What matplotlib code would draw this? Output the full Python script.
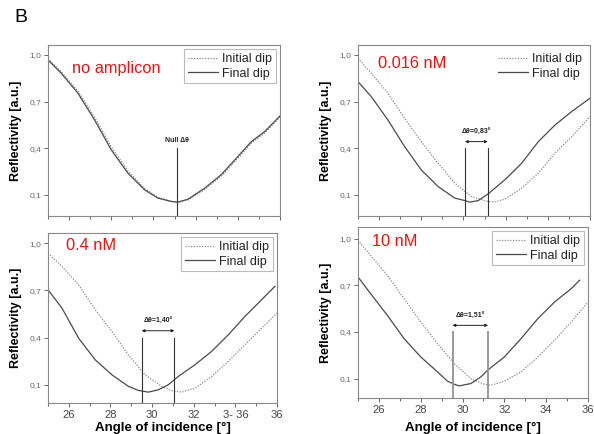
import matplotlib.pyplot as plt
from matplotlib.ticker import MultipleLocator, FixedLocator

plt.rcParams['font.family'] = ['Liberation Sans', 'DejaVu Sans']

# ---- data (angle in deg, reflectivity a.u.) ----
# no amplicon
na_final_x = [25.0, 25.63, 26.42, 27.21, 28.0, 28.79, 29.58, 30.21, 30.85, 31.16,
              31.64, 32.43, 33.21, 34.0, 34.64, 35.27, 36.0]
na_final_y = [0.968, 0.882, 0.754, 0.582, 0.39, 0.24, 0.133, 0.08, 0.058, 0.054,
              0.073, 0.144, 0.23, 0.347, 0.443, 0.507, 0.608]
na_init_x = [25.0, 25.63, 26.42, 27.21, 28.0, 28.79, 29.58, 30.21, 30.85, 31.2,
             31.64, 32.43, 33.21, 34.0, 34.64, 35.27, 36.0]
na_init_y = [0.975, 0.893, 0.768, 0.6, 0.41, 0.255, 0.142, 0.086, 0.06, 0.055,
             0.068, 0.135, 0.22, 0.335, 0.432, 0.497, 0.6]

# 0.016 nM
c1_init_x = [25.0, 25.63, 26.42, 27.21, 28.0, 28.8, 29.59, 30.38, 31.17, 31.45,
             31.96, 32.76, 33.55, 34.34, 35.13, 36.0]
c1_init_y = [0.979, 0.882, 0.754, 0.593, 0.443, 0.304, 0.176, 0.09, 0.058, 0.054,
             0.073, 0.144, 0.24, 0.369, 0.475, 0.604]
c1_final_x = [25.0, 25.63, 26.42, 27.21, 28.0, 28.8, 29.59, 30.07, 30.3, 30.7,
              31.17, 31.96, 32.76, 33.55, 34.34, 35.13, 36.0]
c1_final_y = [0.829, 0.732, 0.582, 0.411, 0.261, 0.154, 0.08, 0.064, 0.054, 0.064,
              0.107, 0.197, 0.304, 0.443, 0.55, 0.636, 0.722]

# 0.4 nM
c2_init_x = [25.0, 25.67, 26.47, 27.27, 28.07, 28.86, 29.66, 30.46, 30.94, 31.42,
             32.06, 32.86, 33.66, 34.46, 35.26, 36.0]
c2_init_y = [0.936, 0.852, 0.735, 0.576, 0.439, 0.29, 0.163, 0.09, 0.062, 0.053,
             0.078, 0.153, 0.248, 0.354, 0.46, 0.555]
c2_final_x = [25.0, 25.67, 26.47, 27.27, 28.07, 28.86, 29.34, 29.82, 30.3, 30.78,
              31.26, 32.06, 32.86, 33.66, 34.46, 35.26, 35.9]
c2_final_y = [0.703, 0.587, 0.396, 0.258, 0.163, 0.09, 0.064, 0.053, 0.068, 0.1,
              0.153, 0.227, 0.312, 0.417, 0.534, 0.64, 0.725]

# 10 nM
c3_init_x = [25.0, 25.6, 26.4, 27.2, 28.0, 28.8, 29.6, 30.4, 31.04, 31.36,
             32.0, 32.8, 33.6, 34.4, 35.2, 36.0]
c3_init_y = [0.99, 0.893, 0.765, 0.615, 0.465, 0.326, 0.197, 0.1, 0.064, 0.058,
             0.084, 0.144, 0.24, 0.347, 0.465, 0.593]
c3_final_x = [25.0, 25.6, 26.4, 27.2, 28.0, 28.8, 29.28, 29.6, 29.84, 30.4,
              30.88, 31.2, 32.0, 32.8, 33.6, 34.4, 35.2, 35.6]
c3_final_y = [0.754, 0.647, 0.508, 0.358, 0.24, 0.144, 0.084, 0.065, 0.054, 0.069,
              0.112, 0.155, 0.24, 0.358, 0.486, 0.593, 0.679, 0.733]

panel_titles = ["no amplicon", "0.016 nM", "0.4 nM", "10 nM"]
shift_labels = ["Null \u0394\u03b8", "\u0394\u03b8=0,83\u00b0", "\u0394\u03b8=1,40\u00b0", "\u0394\u03b8=1,51\u00b0"]
shift_lines = [[31.1], [30.07, 31.15], [29.5, 31.07], [29.52, 31.22]]

y_ticks = [0.1, 0.4, 0.7, 1.0]
y_ticklabels = ["0,1", "0,4", "0,7", "1,0"]
x_ticks = [26, 28, 30, 32, 34, 36]
x_ticklabels_bl = ["26", "28", "30", "32", "3- 36", "36"]
x_ticklabels_br = ["26", "28", "30", "32", "34", "36"]

W, H = 594, 434
fig = plt.figure(figsize=(W / 100, H / 100), dpi=100)


def box(l, r, t, b):
    return [l / W, 1 - b / H, (r - l) / W, (b - t) / H]


rects = [box(48, 280, 45, 216), box(358, 590, 45, 216),
         box(48, 277, 233, 403), box(358, 588, 227, 398)]
ylims = [(-0.035, 1.064), (-0.035, 1.064), (-0.016, 1.064), (-0.024, 1.075)]
data = [(na_init_x, na_init_y, na_final_x, na_final_y),
        (c1_init_x, c1_init_y, c1_final_x, c1_final_y),
        (c2_init_x, c2_init_y, c2_final_x, c2_final_y),
        (c3_init_x, c3_init_y, c3_final_x, c3_final_y)]
legend_frame = [True, False, True, True]
title_px = [(72, 68), (378, 63), (66, 246), (372, 241)]
ylabel_x = [22, 332, 22, 332]

for i, rect in enumerate(rects):
    ax = fig.add_axes(rect)
    ix, iy, fx, fy = data[i]
    ax.plot(ix, iy, color='#8a8a8a', lw=0.9, ls=(0, (1, 1.2)), label='Initial dip')
    ax.plot(fx, fy, color='#4a4a4a', lw=0.9, label='Final dip')
    ax.set_xlim(25, 36)
    ax.set_ylim(*ylims[i])

    lc = '#9a9a9a' if i == 3 else '#333333'
    lw = 1.4 if i == 3 else 0.8
    for xv in shift_lines[i]:
        ax.plot([xv, xv], [ylims[i][0], 0.4], color=lc, lw=lw)
    mid = sum(shift_lines[i]) / len(shift_lines[i])
    if len(shift_lines[i]) == 2:
        ax.annotate('', xy=(shift_lines[i][0], 0.443), xytext=(shift_lines[i][1], 0.443),
                    arrowprops=dict(arrowstyle='<|-|>', color='#222222', lw=0.7,
                                    mutation_scale=4, shrinkA=0, shrinkB=0))
        ax.text(mid, 0.48, shift_labels[i], ha='center', va='bottom', fontsize=5,
                fontweight='bold', color='#222222')
    else:
        ax.text(mid, 0.43, shift_labels[i], ha='center', va='bottom', fontsize=5,
                fontweight='bold', color='#222222')

    fig.text(title_px[i][0] / W, 1 - title_px[i][1] / H, panel_titles[i],
             color='#ee1111', fontsize=11.8, va='center', ha='left')

    leg = ax.legend(loc='upper right', frameon=legend_frame[i], fontsize=9,
                    handlelength=2.4, handletextpad=0.3, borderpad=0.3,
                    labelspacing=0.2, fancybox=False, borderaxespad=0.35)
    for t in leg.get_texts():
        t.set_color('#222222')
    if legend_frame[i]:
        leg.get_frame().set_edgecolor('#aaaaaa')
        leg.get_frame().set_linewidth(0.8)

    ax.yaxis.set_major_locator(FixedLocator(y_ticks))
    ax.set_yticklabels(y_ticklabels)
    ax.xaxis.set_major_locator(FixedLocator(x_ticks))
    ax.xaxis.set_minor_locator(MultipleLocator(1))
    ax.tick_params(axis='both', which='both', colors='#666666', labelsize=6,
                   length=3, width=0.7, pad=2)
    ax.tick_params(axis='both', which='minor', length=2)
    ax.tick_params(axis='x', labelcolor='#444444', labelsize=8)
    for s in ax.spines.values():
        s.set_color('#888888')
        s.set_linewidth(0.8)
    ax.set_ylabel('Reflectivity [a.u.]', fontsize=9, fontweight='bold')
    ax.yaxis.set_label_coords(ylabel_x[i] / W, rect[1] + rect[3] / 2,
                              transform=fig.transFigure)
    if i < 2:
        ax.set_xticklabels([])
    else:
        ax.set_xticklabels(x_ticklabels_bl if i == 2 else x_ticklabels_br)
        ax.set_xlabel('Angle of incidence [\u00b0]', fontsize=9.5, fontweight='bold')
        ax.xaxis.set_label_coords(rect[0] + rect[2] / 2, 1 - 422 / H,
                                  transform=fig.transFigure)

fig.text(14 / W, 1 - 17 / H, 'B', fontsize=14, va='center', ha='left')

fig.savefig('out.png', dpi=100)
